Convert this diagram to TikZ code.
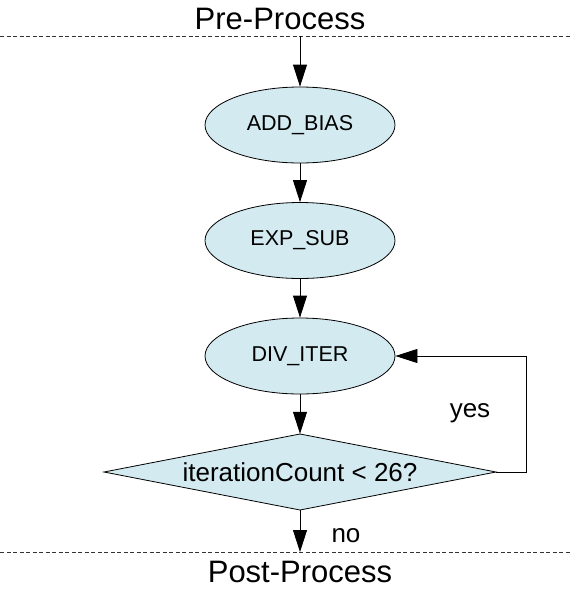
\documentclass[tikz,border=0pt]{standalone}
\usepackage{fontspec}
\setmainfont{Liberation Sans}
\usetikzlibrary{shapes.geometric,arrows.meta}
\definecolor{boxfill}{RGB}{210,234,240}
\begin{document}
\begin{tikzpicture}[x=1pt,y=-1pt,
  statebox/.style={ellipse,draw=black,line width=0.8pt,fill=boxfill,minimum width=190pt,minimum height=76pt,inner sep=0pt,font=\fontsize{21.5}{24}\selectfont},
  decbox/.style={rectangle,minimum width=392pt,minimum height=76pt,inner sep=0pt,font=\fontsize{26}{30}\selectfont},
  decshape/.style={draw=black,line width=0.8pt,fill=boxfill},
  arr/.style={draw=black,line width=0.8pt,-{Triangle[length=22pt,width=14pt]}},
  sepline/.style={draw=black!80,line width=0.7pt,dash pattern=on 4pt off 2.5pt},
  bigtxt/.style={font=\fontsize{31}{36}\selectfont,inner sep=0pt},
  lbl/.style={font=\fontsize{26}{30}\selectfont,inner sep=0pt}]
\useasboundingbox (0,0) rectangle (570,592);
\fill[white] (0,0) rectangle (570,592);
% separators
\coordinate (tl) at (0,36);
\coordinate (tr) at (570,36);
\coordinate (bl) at (0,552);
\coordinate (br) at (570,552);
\draw[sepline] (tl) -- (tr);
\draw[sepline] (bl) -- (br);
\node[bigtxt,anchor=base] (pre) at (280,29) {Pre-Process};
\node[bigtxt,anchor=base] (post) at (300,582) {Post-Process};
% nodes
\node[statebox] (add) at (300,125) {ADD\_BIAS};
\node[statebox] (exp) at (300,240.5) {EXP\_SUB};
\node[statebox] (div) at (300,356) {DIV\_ITER};
\path[decshape] (104,472) -- (300,434) -- (496,472) -- (300,510) -- cycle;
\node[decbox] (dec) at (300,472) {iterationCount < 26?};
\coordinate (top) at (300,36);
\coordinate (bot) at (300,552);
% connectors
\draw[arr] (top) -- (add.north);
\draw[arr] (add.south) -- (exp.north);
\draw[arr] (exp.south) -- (div.north);
\draw[arr] (div.south) -- (dec.north);
\draw[arr] (dec.south) -- (bot);
\draw[arr] (dec.east) -- ++(30,0) |- (div.east);
\node[lbl] (yes) at (470,413) {yes};
\node[lbl,anchor=base] (no) at (346,542) {no};
\end{tikzpicture}
\end{document}
